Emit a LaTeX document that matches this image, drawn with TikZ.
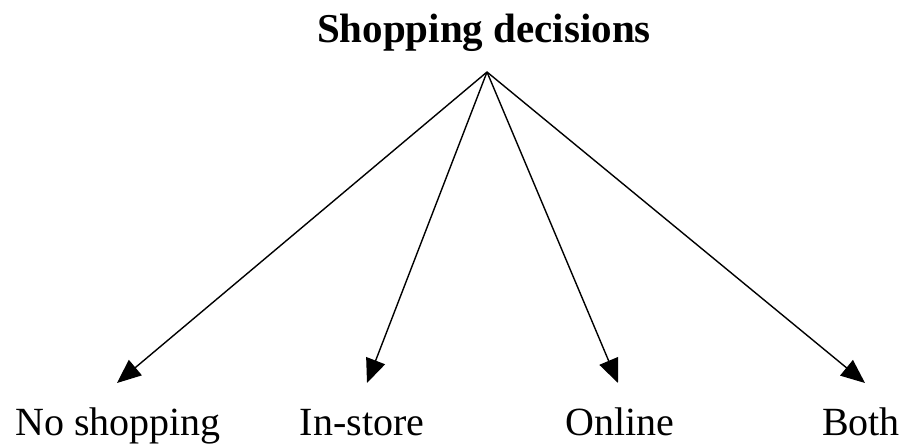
\documentclass[tikz,border=0pt]{standalone}
\usepackage{fontspec}
\setmainfont{Liberation Serif}
\usetikzlibrary{arrows.meta}

\begin{document}
\begin{tikzpicture}[x=1pt,y=1pt,
    choice/.style={anchor=base,inner sep=0pt,font=\fontsize{40}{48}\selectfont},
    branch/.style={line width=1.4pt,-{Triangle[length=24pt,width=20pt]}}]
                \useasboundingbox (0,0) rectangle (907,445);
                % title and the point the arrows leave from
                \node[anchor=base,inner sep=0pt,font=\fontsize{41}{49}\selectfont\bfseries] (title) at (484,402) {Shopping decisions};
                \coordinate (apex) at (487,373);
                % the four choices
                \node[choice] (none)   at (118,10) {No shopping};
                \node[choice] (store)  at (362,10) {In-store};
                \node[choice] (online) at (620,10) {Online};
                \node[choice] (both)   at (861,10) {Both};
                \coordinate (tnone)   at (117,62);
                \coordinate (tstore)  at (367,62);
                \coordinate (tonline) at (618,62);
                \coordinate (tboth)   at (865,62);
                \draw[branch] (apex)--(tnone);
                \draw[branch] (apex)--(tstore);
                \draw[branch] (apex)--(tonline);
                \draw[branch] (apex)--(tboth);
            \end{tikzpicture}
\end{document}
